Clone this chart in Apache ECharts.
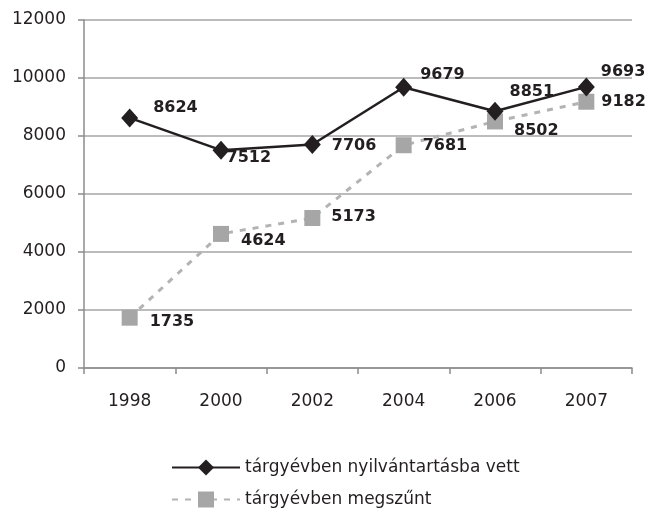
<!DOCTYPE html>
<html>
<head>
<meta charset="utf-8">
<script src="https://cdn.jsdelivr.net/npm/echarts@6/dist/echarts.min.js"></script>
<style>
  html, body { margin: 0; padding: 0; background: #fff; }
  #chart { width: 649px; height: 515px; }
</style>
</head>
<body>
<div id="chart"></div>
<script>
// évek
const years = ['1998', '2000', '2002', '2004', '2006', '2007'];
// tárgyévben nyilvántartásba vett
const registered = [8624, 7512, 7706, 9679, 8851, 9693];
// tárgyévben megszűnt
const ceased = [1735, 4624, 5173, 7681, 8502, 9182];

const nameRegistered = 'tárgyévben nyilvántartásba vett';
const nameCeased = 'tárgyévben megszűnt';

// címke eltolások (pixel)
const offRegistered = [[11, -10], [-7, 8], [7, 1], [4, -12], [2, -19], [2, -15]];
const offCeased = [[8, 4], [8, 7], [7, -1], [7, 1], [7, 9], [3, 0]];

const font = '"DejaVu Sans", sans-serif';

function withLabels(values, offsets) {
  return values.map((v, i) => ({
    value: v,
    label: { offset: offsets[i] }
  }));
}

const labelStyle = {
  show: true,
  position: 'right',
  distance: 4,
  color: '#231f20',
  fontSize: 16,
  fontWeight: 'bold',
  fontFamily: font
};

const chart = echarts.init(document.getElementById('chart'));
chart.setOption({
  animation: false,
  backgroundColor: '#fff',
  grid: { left: 84, right: 17, top: 20, bottom: 147 },
  xAxis: {
    type: 'category',
    data: years,
    boundaryGap: true,
    axisLine: { lineStyle: { color: '#8c8c8c', width: 1.5 } },
    axisTick: { show: true, length: 6, lineStyle: { color: '#8c8c8c', width: 1.5 } },
    axisLabel: { color: '#231f20', fontSize: 17, fontFamily: font, margin: 25 }
  },
  yAxis: {
    type: 'value',
    min: 0,
    max: 12000,
    interval: 2000,
    axisLine: { show: true, lineStyle: { color: '#8c8c8c', width: 1.5 } },
    axisTick: { show: true, length: 6, lineStyle: { color: '#8c8c8c', width: 1.5 } },
    axisLabel: {
      color: '#231f20', fontSize: 17, fontFamily: font, margin: 18,
      formatter: v => String(v)
    },
    splitLine: { lineStyle: { color: '#a6a6a6', width: 1.5 } }
  },
  legend: {
    orient: 'vertical',
    left: 166,
    top: 454,
    itemWidth: 68,
    itemHeight: 20,
    itemGap: 15,
    textStyle: { color: '#231f20', fontSize: 17, fontFamily: font },
    data: [nameRegistered, nameCeased]
  },
  series: [
    {
      name: nameCeased,
      type: 'line',
      data: withLabels(ceased, offCeased),
      symbol: 'rect',
      symbolSize: 16,
      itemStyle: { color: '#a6a6a6' },
      lineStyle: { color: '#b3b3b3', width: 3, type: [6, 7] },
      label: labelStyle,
      z: 2
    },
    {
      name: nameRegistered,
      type: 'line',
      data: withLabels(registered, offRegistered),
      symbol: 'diamond',
      symbolSize: [17, 19],
      itemStyle: { color: '#231f20' },
      lineStyle: { color: '#231f20', width: 2.5 },
      label: labelStyle,
      z: 3
    }
  ]
});
</script>
</body>
</html>
